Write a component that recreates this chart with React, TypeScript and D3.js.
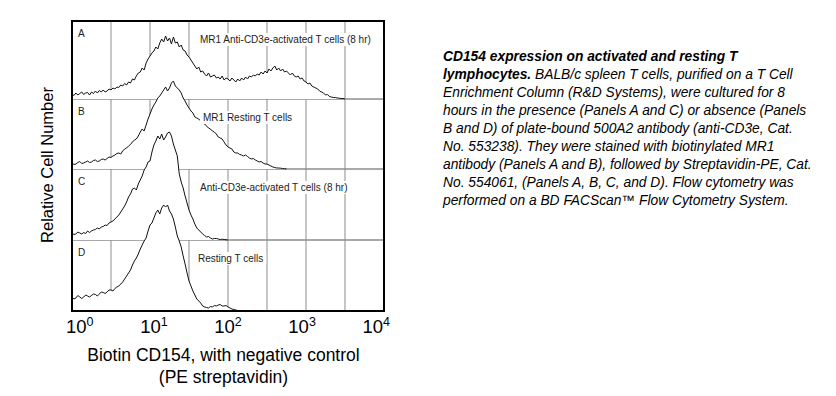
import React, { useEffect, useRef } from 'react';
import * as d3 from 'd3';

// histogram channels are spaced evenly on the log10 axis
const binStep = 0.025;

const panelLetters = ['A', 'B', 'C', 'D'];
const panelTitles = [
  'MR1 Anti-CD3e-activated T cells (8 hr)',
  'MR1 Resting T cells',
  'Anti-CD3e-activated T cells (8 hr)',
  'Resting T cells',
];

// relative cell number per channel
const countsA = [5, 3.5, 6, 4, 5.5, 7, 4.5, 6, 6.5, 4, 7, 5.5, 8, 6, 8.5, 7, 9, 7, 8, 10,
  9, 11, 10, 12, 11.5, 14, 13, 15.5, 14, 17, 16, 20, 19, 23, 26, 27, 31, 29, 36, 40,
  43, 46, 48, 52, 50, 56, 60, 57, 63, 58, 61, 55, 62, 56, 57, 52, 54, 49, 48, 44,
  42, 39, 36, 33, 30, 32, 27, 28, 25, 23, 26, 22, 23, 24, 21, 22, 20, 23, 19, 21,
  20, 18, 21, 19, 17, 20, 18, 21, 19, 22, 20, 23, 22, 24, 23, 25, 24, 27, 25, 28,
  26, 30, 28, 31, 33, 29, 31, 28, 30, 27, 28, 26, 24, 26, 23, 22, 23, 20, 21, 18,
  17, 15, 16, 13, 12, 11, 10, 8, 7, 6, 4, 4.5, 2.5, 2, 1.5, 1.5, 1, 0.8, 0.5, 0.5, 0];
const countsB = [6, 4.5, 5, 6.5, 7.5, 5.5, 6, 7, 8, 6.5, 7, 8.5, 9, 7.5, 8, 9.5, 10, 9, 10.5, 12,
  11.5, 13, 14, 15.5, 16, 15, 18, 20, 21, 23, 24.5, 27, 29, 30, 33, 37, 40, 38, 44, 50,
  55, 60, 64, 67, 71, 73, 76, 79, 82, 78, 81, 86, 88, 83, 81, 79, 76, 71, 68, 64,
  61, 58, 56, 52, 51, 50, 48, 46, 45, 43, 41, 40, 38, 37, 35, 32, 31, 30, 27, 24,
  22, 21, 20, 17, 16, 16, 14.5, 14, 13, 14, 12.5, 11, 10, 10.5, 9, 8, 7, 7.5, 6, 5,
  5, 4, 3, 2, 1.5, 1, 1, 0.8, 0.5, 0.3, 0];
const countsC = [7, 5.5, 6, 8, 7, 6, 7.5, 6.5, 9, 7.5, 9, 10, 10.5, 12, 11, 13, 13.5, 15, 14.5, 17,
  18, 19, 21, 23, 25, 28, 31, 34, 38, 43, 46, 51, 52, 50, 56, 60, 64, 70, 73, 78,
  79, 88, 95, 99, 104, 101, 106, 100, 103, 107, 108, 104, 96, 90, 84, 66, 58, 52, 44, 37,
  30, 25, 21, 16, 12, 10, 8, 6, 4.5, 3, 3.5, 2, 1, 1.5, 1.5, 1, 0.5, 0.8, 0.5, 0.3, 0];
const countsD = [14, 12, 13, 15.5, 14, 12.5, 14, 16, 15, 14, 15.5, 17, 16.5, 15, 17, 19, 18.5, 17.5, 19, 21,
  21, 20, 22.5, 24, 25, 27, 29, 32, 35, 38, 41, 46, 50, 53, 57, 62, 66, 70, 73, 80,
  86, 88, 93, 98, 101, 97, 103, 106, 104, 106, 100, 97, 92, 84, 75, 70, 64, 55, 47, 38,
  30, 25, 20, 16, 12, 10, 8, 5, 4, 3.5, 3, 4.5, 4, 5.5, 5, 6, 6.5, 5, 5, 5.5,
  4, 3, 2, 1.5, 1, 0.5, 0];

const decadeTicks = [1, 10, 100, 1000, 10000];
const decadeExponents = ['0', '1', '2', '3', '4'];
const gridTicks = [3.162, 10, 31.62, 100, 316.2, 1000, 3162];

const captionLines = [
  'CD154 expression on activated and resting T',
  ' BALB/c spleen T cells, purified on a T Cell',
  'Enrichment Column (R&D Systems), were cultured for 8',
  'hours in the presence (Panels A and C) or absence (Panels',
  'B and D) of plate-bound 500A2 antibody (anti-CD3e, Cat.',
  'No. 553238). They were stained with biotinylated MR1',
  'antibody (Panels A and B), followed by Streptavidin-PE, Cat.',
  'No. 554061, (Panels A, B, C, and D). Flow cytometry was',
  'performed on a BD FACScan\u2122 Flow Cytometry System.',
];

function App() {
  const ref = useRef<SVGSVGElement>(null);

  useEffect(() => {
    document.body.style.margin = '0';
    const svg = d3.select(ref.current);
    svg.selectAll('*').remove();

    const font = "'Liberation Sans', Arial, Helvetica, sans-serif";
    const left = 72, right = 384;
    const panelEdges = [21, 99, 169, 240, 311];
    const top = panelEdges[0], bottom = panelEdges[4];
    const series = [countsA, countsB, countsC, countsD];

    const x = d3.scaleLog().domain([1, 1e4]).range([left, right]);

    // grid
    svg.append('g')
      .selectAll('line')
      .data(gridTicks)
      .join('line')
      .attr('x1', d => x(d)).attr('x2', d => x(d))
      .attr('y1', top).attr('y2', bottom)
      .attr('stroke', '#8c8c8c')
      .attr('stroke-width', 1);

    svg.append('g')
      .selectAll('line')
      .data(panelEdges.slice(1, 4))
      .join('line')
      .attr('x1', left).attr('x2', right)
      .attr('y1', d => d).attr('y2', d => d)
      .attr('stroke', '#8c8c8c')
      .attr('stroke-width', 1.5);

    // histograms, each one covers what is behind it
    series.forEach((counts, i) => {
      const base = panelEdges[i + 1];
      const y = d3.scaleLinear().domain([0, 70]).range([base, base - 70]);
      const pts: [number, number][] = counts.map((c, k) => [Math.pow(10, k * binStep), c]);
      const area = d3.area<[number, number]>()
        .x(d => x(d[0]))
        .y0(base)
        .y1(d => y(d[1]));
      const line = d3.line<[number, number]>()
        .x(d => x(d[0]))
        .y(d => y(d[1]));
      svg.append('path').attr('d', area(pts)).attr('fill', 'white');
      svg.append('path')
        .attr('d', line(pts))
        .attr('fill', 'none')
        .attr('stroke', '#111')
        .attr('stroke-width', 1);
    });

    // panel letters and titles
    const titleX = [200, 203, 200, 198];
    panelLetters.forEach((letter, i) => {
      const ptop = panelEdges[i];
      svg.append('text')
        .attr('x', left + 6)
        .attr('y', ptop + 16)
        .attr('font-family', font)
        .attr('font-size', 10)
        .attr('fill', '#222')
        .text(letter);
      const g = svg.append('g');
      const t = g.append('text')
        .attr('x', titleX[i])
        .attr('y', ptop + 22)
        .attr('font-family', font)
        .attr('font-size', 10)
        .attr('fill', '#222')
        .text(panelTitles[i]);
      const bb = (t.node() as SVGTextElement).getBBox();
      g.insert('rect', 'text')
        .attr('x', bb.x - 3).attr('y', bb.y - 1)
        .attr('width', bb.width + 6).attr('height', bb.height + 2)
        .attr('fill', 'white');
    });

    // frame
    svg.append('rect')
      .attr('x', left).attr('y', top)
      .attr('width', right - left).attr('height', bottom - top)
      .attr('fill', 'none')
      .attr('stroke', '#000')
      .attr('stroke-width', 2);

    // decade labels
    const mid = (left + right) / 2;
    decadeTicks.forEach((d, i) => {
      const t = svg.append('text')
        .attr('x', mid + (x(d) - mid) * 0.95)
        .attr('y', 333)
        .attr('text-anchor', 'middle')
        .attr('font-family', font)
        .attr('font-size', 18.5)
        .attr('fill', '#000');
      t.append('tspan').text('10');
      t.append('tspan').attr('dy', -7).attr('font-size', 12.5).text(decadeExponents[i]);
    });

    // axis titles
    svg.append('text')
      .attr('transform', 'translate(53,165) rotate(-90)')
      .attr('text-anchor', 'middle')
      .attr('font-family', font)
      .attr('font-size', 16.5)
      .text('Relative Cell Number');

    svg.append('text')
      .attr('x', 223.5).attr('y', 361)
      .attr('text-anchor', 'middle')
      .attr('font-family', font)
      .attr('font-size', 17.5)
      .text('Biotin CD154, with negative control');
    svg.append('text')
      .attr('x', 223.5).attr('y', 383)
      .attr('text-anchor', 'middle')
      .attr('font-family', font)
      .attr('font-size', 17.5)
      .text('(PE streptavidin)');

    // caption
    const cap = svg.append('g')
      .attr('font-family', font)
      .attr('font-size', 13.8)
      .attr('font-style', 'italic')
      .style('white-space', 'pre');
    captionLines.forEach((line, i) => {
      const t = cap.append('text').attr('x', 443).attr('y', 61 + i * 18);
      if (i === 0) {
        t.attr('font-weight', 'bold').text(line);
      } else if (i === 1) {
        t.append('tspan').attr('font-weight', 'bold').text('lymphocytes.');
        t.append('tspan').text(line);
      } else {
        t.text(line);
      }
    });
  }, []);

  return (
    <svg ref={ref} width={836} height={396}
      style={{ position: 'absolute', left: 0, top: 0, background: 'white' }} />
  );
}

export default App;
